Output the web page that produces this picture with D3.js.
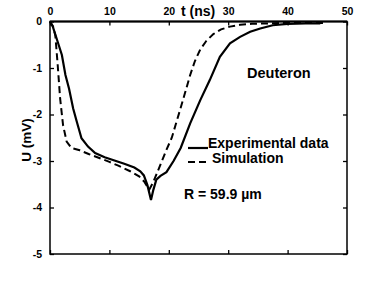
<!DOCTYPE html>
<html>
<head>
<meta charset="utf-8">
<script src="https://cdn.jsdelivr.net/npm/d3@7"></script>
<style>
  body { margin: 0; background: #fff; }
  text { font-family: "Liberation Sans", Arial, sans-serif; font-weight: bold; fill: #000; }
</style>
</head>
<body>
<div id="chart"></div>
<script>
// experimental trace (solid)
const expT = [0, 0.5, 1.1, 2.0, 2.6, 3.2, 3.9, 4.5, 5.3, 6.4, 7.6, 9.2, 10.6, 12.5, 14.2, 15.2, 15.8, 16.4, 17.0, 17.4, 17.9, 18.6, 19.6, 20.8, 22.0, 23.6, 25.3, 26.9, 28.6, 30.3, 32.0, 33.7, 35.4, 37.5, 40.0, 43.0, 45.5];
const expU = [0, -0.12, -0.36, -0.72, -1.15, -1.44, -1.87, -2.15, -2.51, -2.69, -2.83, -2.92, -2.98, -3.06, -3.14, -3.22, -3.31, -3.52, -3.84, -3.62, -3.40, -3.32, -3.24, -3.0, -2.72, -2.19, -1.69, -1.26, -0.76, -0.47, -0.33, -0.22, -0.15, -0.08, -0.05, -0.04, -0.04];

// simulation (dashed)
const simT = [0, 0.5, 0.9, 1.3, 1.7, 2.2, 2.8, 3.6, 5.0, 6.5, 8.4, 10.0, 11.5, 13.5, 15.0, 15.9, 16.7, 17.4, 18.2, 18.9, 19.6, 20.5, 21.2, 21.9, 22.7, 23.6, 24.4, 25.3, 26.3, 27.5, 28.8, 30.3, 32.0, 34.0, 37.0, 40.0, 43.0, 46.0];
const simU = [0, -0.1, -0.3, -0.94, -1.65, -2.23, -2.58, -2.72, -2.77, -2.85, -2.94, -3.02, -3.1, -3.22, -3.33, -3.45, -3.62, -3.45, -3.2, -2.98, -2.76, -2.5, -2.2, -1.9, -1.55, -1.15, -0.85, -0.6, -0.42, -0.27, -0.17, -0.11, -0.07, -0.05, -0.04, -0.03, -0.03, -0.03];

const xTicks = [0, 10, 20, 30, 40, 50];
const yTicks = [0, -1, -2, -3, -4, -5];

const width = 382, height = 286;
const margin = { top: 21.5, right: 35, bottom: 32, left: 50 };

const x = d3.scaleLinear().domain([0, 50]).range([margin.left, width - margin.right]);
const y = d3.scaleLinear().domain([0, -5]).range([margin.top, height - margin.bottom]);

const svg = d3.select("#chart").append("svg").attr("width", width).attr("height", height);

const hyphen = d => String(d);

// top and left: inward ticks + labels outside
svg.append("g")
    .attr("transform", `translate(0,${margin.top})`)
    .call(d3.axisTop(x).tickValues(xTicks).tickSizeInner(-4).tickSizeOuter(0).tickPadding(7).tickFormat(hyphen))
    .call(g => g.select(".domain").remove())
    .call(g => g.selectAll("line").attr("stroke-width", 1.3))
    .selectAll("text").style("font-size", "10.5px").style("font-family", "Liberation Sans, Arial, sans-serif").style("font-weight", "bold");

svg.append("g")
    .attr("transform", `translate(${margin.left},0)`)
    .call(d3.axisLeft(y).tickValues(yTicks).tickSizeInner(-4).tickSizeOuter(0).tickPadding(8).tickFormat(hyphen))
    .call(g => g.select(".domain").remove())
    .call(g => g.selectAll("line").attr("stroke-width", 1.3))
    .selectAll("text").style("font-size", "10.5px").style("font-family", "Liberation Sans, Arial, sans-serif").style("font-weight", "bold");

// inward ticks bottom and right
svg.append("g")
    .attr("transform", `translate(0,${height - margin.bottom})`)
    .call(d3.axisBottom(x).tickValues(xTicks).tickSize(-4).tickFormat(""))
    .call(g => g.select(".domain").remove())
    .selectAll("line").attr("stroke-width", 1.3);

svg.append("g")
    .attr("transform", `translate(${width - margin.right},0)`)
    .call(d3.axisRight(y).tickValues(yTicks).tickSize(-4).tickFormat(""))
    .call(g => g.select(".domain").remove())
    .selectAll("line").attr("stroke-width", 1.3);

// frame
svg.append("rect")
    .attr("x", x(0)).attr("y", y(0))
    .attr("width", x(50) - x(0)).attr("height", y(-5) - y(0))
    .attr("fill", "none").attr("stroke", "#000").attr("stroke-width", 1.5);
svg.append("line")
    .attr("x1", x(0)).attr("x2", x(50)).attr("y1", y(0)).attr("y2", y(0))
    .attr("stroke", "#000").attr("stroke-width", 2);

const line = d3.line().x(d => x(d[0])).y(d => y(d[1]));

svg.append("path")
    .datum(simT.map((t, i) => [t, simU[i]]))
    .attr("fill", "none").attr("stroke", "#000").attr("stroke-width", 2)
    .attr("stroke-dasharray", "7,4")
    .attr("d", line);

svg.append("path")
    .datum(expT.map((t, i) => [t, expU[i]]))
    .attr("fill", "none").attr("stroke", "#000").attr("stroke-width", 2.2)
    .attr("d", line);

// axis titles
svg.append("text").attr("x", 181).attr("y", 16).style("font-size", "14px").text("t (ns)");
svg.append("text")
    .attr("transform", "translate(31,140) rotate(-90)")
    .attr("text-anchor", "middle")
    .style("font-size", "13.5px")
    .text("U (mV)");

// annotations
svg.append("text").attr("x", 247).attr("y", 78).style("font-size", "14.5px").text("Deuteron");
svg.append("text").attr("x", 184).attr("y", 199).style("font-size", "14px").text("R = 59.9 µm");

// legend
svg.append("line").attr("x1", 188).attr("x2", 208).attr("y1", 148).attr("y2", 148)
    .attr("stroke", "#000").attr("stroke-width", 2.2);
svg.append("text").attr("x", 208).attr("y", 148).style("font-size", "14px").text("Experimental data");
svg.append("line").attr("x1", 188).attr("x2", 208).attr("y1", 162).attr("y2", 162)
    .attr("stroke", "#000").attr("stroke-width", 2.2).attr("stroke-dasharray", "7,4");
svg.append("text").attr("x", 212).attr("y", 163).style("font-size", "14px").text("Simulation");
</script>
</body>
</html>
